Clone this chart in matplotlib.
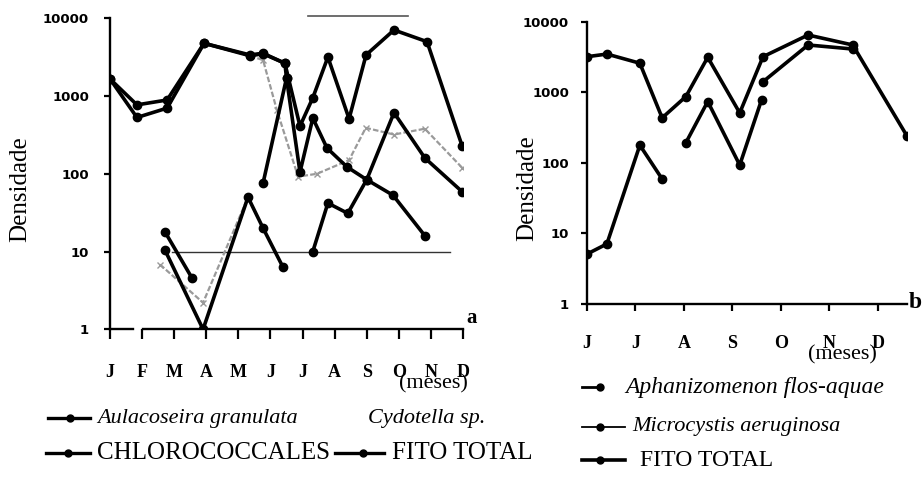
#!/usr/bin/env python3
"""
Densidade do fitoplancton (log) ao longo dos meses - paineis a e b.
- PNG: out.png
"""

import numpy as np
import matplotlib.pyplot as plt
from matplotlib.lines import Line2D

W, H = 923, 479
nan = np.nan

# --- painel a (J..D), x = indice do mes (0 = J)
months_a = ["J", "F", "M", "A", "M", "J", "J", "A", "S", "O", "N", "D"]

total_a_x = [0, 0.84, 1.78, 2.93, 4.36, 4.77, 5.45, 5.92, 6.32, 6.79, 7.45, 7.98, 8.85, 9.88, 10.97]
total_a_y = [1660, 770, 890, 4770, 3380, 3550, 2640, 410, 950, 3170, 510, 3380, 7070, 5000, 230]

aulaco_x = [0, 0.84, 1.78, 2.93, 4.36, 4.77, 5.45, 5.5, 5.92, 6.32, 6.76, 7.38, 8.0, 8.82, 9.81,
            nan, 1.71, 2.55]
aulaco_y = [1660, 530, 700, 4770, 3300, 3500, 2640, 1700, 105, 520, 215, 123, 84, 53, 16,
            nan, 18, 4.6]

cyclo_x = [1.56, 2.9, 4.3, nan, 4.36, 4.77, 5.2, 5.86, 6.45, 7.45, 7.97, 8.85, 9.81, 10.97]
cyclo_y = [6.8, 2.2, 50, nan, 3300, 2900, 660, 92, 100, 150, 390, 320, 380, 120]

chloro_x = [4.77, 5.5, nan, 6.32, 6.79, 7.41, 8.0, 8.85, 9.81, 10.97,
            nan, 1.71, 2.9, 4.3, 4.77, 5.39]
chloro_y = [76, 1700, nan, 10, 42, 31, 84, 610, 160, 59,
            nan, 10.5, 1, 50, 20, 6.3]

# --- painel b (J..D, junho a dezembro)
months_b = ["J", "J", "A", "S", "O", "N", "D"]

total_b_x = [0, 0.41, 1.09, 1.55, 2.04, 2.49, 3.15, 3.63, 4.56, 5.48, 6.6]
total_b_y = [3190, 3480, 2580, 434, 870, 3130, 510, 3190, 6480, 4680, 240]

aphan_x = [0, 0.41, 1.09, 1.55, nan, 3.63, 4.56, 5.48]
aphan_y = [5.1, 7.1, 178, 59, nan, 1410, 4680, 4100]

micro_x = [2.04, 2.49, 3.15, 3.6]
micro_y = [193, 740, 93, 780]

yticks = [1, 10, 100, 1000, 10000]

BLACK = dict(color="black", lw=2.6, marker="o", ms=6, solid_joinstyle="round")
GRAY = dict(color="#9a9a9a", lw=1.6, ls=(0, (2.5, 1)), marker="x", ms=4, mew=1)

SERIF = "Liberation Serif"


def fx(x):
    return x / W


def fy(y):
    return 1 - y / H


def style_axis(ax, labels, ypad, xpad, xlen):
    ax.set_yscale("log")
    ax.set_ylim(1, 10000)
    ax.set_yticks(yticks)
    ax.set_yticklabels([str(t) for t in yticks])
    ax.minorticks_off()
    ax.yaxis.set_minor_locator(plt.NullLocator())
    ax.set_xticks(range(len(labels)))
    ax.set_xticklabels(labels)
    for s in ("top", "right"):
        ax.spines[s].set_visible(False)
    for s in ("left", "bottom"):
        ax.spines[s].set_linewidth(1.7)
    ax.tick_params(axis="y", direction="out", length=4, width=1.6, pad=ypad)
    ax.tick_params(axis="x", direction="out", length=xlen, width=1.6, pad=xpad)
    for t in ax.get_yticklabels():
        t.set_fontfamily("DejaVu Sans")
        t.set_fontweight("bold")
        t.set_fontsize(9.5)
    for t in ax.get_xticklabels():
        t.set_fontfamily(SERIF)
        t.set_fontweight("bold")
        t.set_fontsize(13)


def legend_entry(fig, x0, x1, xdot, y, lw, text, tx, size, italic):
    fig.add_artist(Line2D([fx(x0), fx(x1)], [fy(y), fy(y)], color="black", lw=lw,
                          transform=fig.transFigure))
    fig.add_artist(Line2D([fx(xdot)], [fy(y)], color="black", marker="o", ms=5,
                          transform=fig.transFigure))
    fig.text(fx(tx), fy(y), text, family=SERIF, fontsize=size,
             style="italic" if italic else "normal", va="center", ha="left")


def main() -> int:
    fig = plt.figure(figsize=(W / 100, H / 100), dpi=100)

    # --- painel a
    ax1 = fig.add_axes([fx(110), fy(329.3), fx(463) - fx(110), fy(18.3) - fy(329.3)])
    ax1.set_xlim(0, 11)
    ax1.axhline(10, xmin=0.176, xmax=0.963, color="#333333", lw=1)
    ax1.axhline(10800, xmin=0.56, xmax=0.844, color="#555555", lw=1.2, clip_on=False)
    ax1.plot(cyclo_x, cyclo_y, **GRAY)
    ax1.plot(chloro_x, chloro_y, **BLACK)
    ax1.plot(aulaco_x, aulaco_y, **BLACK)
    ax1.plot(total_a_x, total_a_y, **BLACK)
    style_axis(ax1, months_a, ypad=11, xpad=18, xlen=7)
    # eixo x com falha perto de F (como no original)
    ax1.spines["bottom"].set_visible(False)
    ax1.plot([0, 0.065], [0, 0], color="black", lw=1.7, transform=ax1.transAxes, clip_on=False)
    ax1.plot([0.093, 1], [0, 0], color="black", lw=1.7, transform=ax1.transAxes, clip_on=False)

    # --- painel b
    ax2 = fig.add_axes([fx(587), fy(304), fx(907) - fx(587), fy(21.7) - fy(304)])
    ax2.set_xlim(0, 6.6)
    ax2.plot(micro_x, micro_y, **BLACK)
    ax2.plot(aphan_x, aphan_y, **BLACK)
    ax2.plot(total_b_x, total_b_y, **BLACK)
    style_axis(ax2, months_b, ypad=9, xpad=17, xlen=5)

    # --- textos
    fig.text(fx(20), fy(189), "Densidade", family=SERIF, fontsize=18, rotation=90,
             ha="center", va="center")
    fig.text(fx(527), fy(188), "Densidade", family=SERIF, fontsize=18, rotation=90,
             ha="center", va="center")
    fig.text(fx(433), fy(384), "(meses)", family=SERIF, fontsize=16, ha="center", va="center")
    fig.text(fx(842), fy(355), "(meses)", family=SERIF, fontsize=16, ha="center", va="center")
    fig.text(fx(466), fy(318), "a", family=SERIF, fontsize=15, weight="bold", va="center")
    fig.text(fx(909), fy(302), "b", family=SERIF, fontsize=17, weight="bold", va="center")

    # --- legendas
    legend_entry(fig, 48, 90, 70, 418, 2.4, "Aulacoseira granulata", 97, 16, True)
    fig.text(fx(368), fy(418), "Cydotella sp.", family=SERIF, fontsize=16, style="italic",
             va="center", ha="left")
    legend_entry(fig, 46, 90, 68, 453, 2.4, "CHLOROCOCCALES", 97, 18, False)
    legend_entry(fig, 335, 384, 363, 453, 2.4, "FITO TOTAL", 392, 18, False)

    legend_entry(fig, 582, 602, 600, 387, 2.0, "Aphanizomenon flos-aquae", 625, 17, True)
    legend_entry(fig, 582, 625, 600, 427, 1.3, "Microcystis aeruginosa", 632, 16, True)
    legend_entry(fig, 582, 625, 600, 460, 2.6, "FITO TOTAL", 640, 17, False)

    fig.savefig("out.png", dpi=100)
    plt.close(fig)
    return 0


if __name__ == "__main__":
    raise SystemExit(main())
